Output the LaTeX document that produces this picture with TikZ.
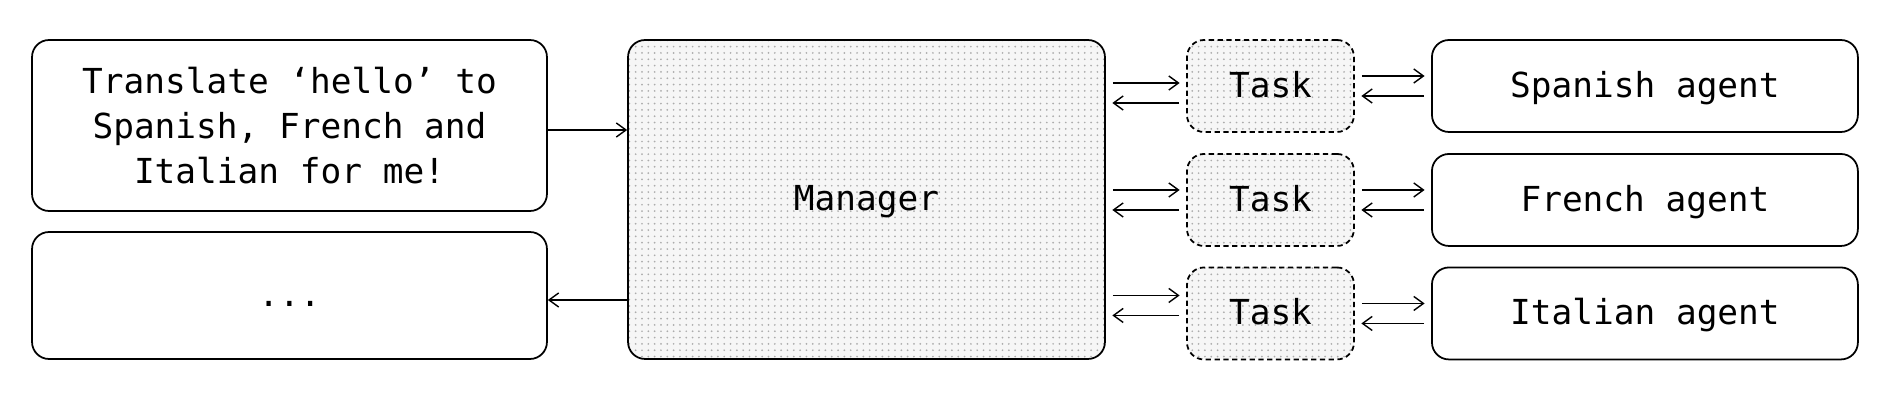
\documentclass[tikz,border=0pt]{standalone}
\usepackage{fontspec}
\setmonofont{DejaVu Sans Mono}
\usetikzlibrary{arrows.meta,patterns.meta}
\pgfdeclarepattern{name=fine dots, type=uncolored,
  bottom left={\pgfpoint{-.1pt}{-.1pt}}, top right={\pgfpoint{3.7pt}{3.7pt}},
  tile size={\pgfpoint{3.6pt}{3.6pt}},
  code={\pgfpathcircle{\pgfpoint{1.8pt}{1.8pt}}{0.55pt}\pgfusepath{fill}}}
\tikzstyle{box} = [rectangle, draw, line width=1pt, rounded corners=0.34cm,
    font=\ttfamily\fontsize{19.6}{25.5}\selectfont]
\tikzstyle{label} = [text height=13pt, text depth=0pt]
\tikzstyle{dotbox} = [box, label, preaction={fill=gray!7}, pattern=fine dots,
    pattern color=gray!65]
\tikzstyle{taskbox} = [dotbox, dash pattern=on 3pt off 2pt,
    minimum width=3.34cm, minimum height=1.84cm]
\tikzstyle{agent} = [box, label, minimum width=8.52cm, minimum height=1.84cm]
\tikzstyle{link} = [line width=0.8pt, -{Straight Barb[length=5.5pt,width=8pt]}]
\tikzstyle{pair} = [link, shorten <=0.14cm, shorten >=0.13cm]

\begin{document}
\begin{tikzpicture}[x=0.02cm,y=-0.02cm]
  \useasboundingbox (0,0) rectangle (1884,404);
  \node[box,align=center,minimum width=10.3cm,minimum height=3.42cm] (in) at (289.5,125.5)
    {Translate ‘hello’ to\\Spanish, French and\\Italian for me!};
  \node[box,label,minimum width=10.3cm,minimum height=2.54cm]
    (out) at (289.5,295.5) {...};
  \node[dotbox,minimum width=9.54cm,minimum height=6.38cm] (m) at (866.5,199.5) {Manager};
  \node[taskbox] (t0) at (1270.5,86) {Task};
  \node[taskbox,node distance=2.28cm] (t1) [below of=t0] {Task};
  \node[taskbox,node distance=2.27cm] (t2) [below of=t1] {Task};
  \node[agent,node distance=7.49cm] (a0) [right of=t0] {Spanish agent};
  \node[agent,node distance=7.49cm] (a1) [right of=t1] {French agent};
  \node[agent,node distance=7.49cm] (a2) [right of=t2] {Italian agent};

  \draw[link] ([yshift=-0.09cm]in.east) -- ([yshift=-0.09cm]in.east -| m.west);
  \draw[link] ([yshift=-0.09cm]out.east -| m.west) -- ([yshift=-0.09cm]out.east);
  \draw[pair] ([yshift=0.06cm]t0.west -| m.east) -- ([yshift=0.06cm]t0.west);
  \draw[pair] ([yshift=-0.34cm]t0.west) -- ([yshift=-0.34cm]t0.west -| m.east);
  \draw[pair] ([yshift=0.2cm]t1.west -| m.east) -- ([yshift=0.2cm]t1.west);
  \draw[pair] ([yshift=-0.2cm]t1.west) -- ([yshift=-0.2cm]t1.west -| m.east);
  \draw[pair] ([yshift=0.36cm]t2.west -| m.east) -- ([yshift=0.36cm]t2.west);
  \draw[pair] ([yshift=-0.04cm]t2.west) -- ([yshift=-0.04cm]t2.west -| m.east);
  \draw[pair] ([yshift=0.2cm]t0.east) -- ([yshift=0.2cm]a0.west);
  \draw[pair] ([yshift=-0.2cm]a0.west) -- ([yshift=-0.2cm]t0.east);
  \draw[pair] ([yshift=0.2cm]t1.east) -- ([yshift=0.2cm]a1.west);
  \draw[pair] ([yshift=-0.2cm]a1.west) -- ([yshift=-0.2cm]t1.east);
  \draw[pair] ([yshift=0.2cm]t2.east) -- ([yshift=0.2cm]a2.west);
  \draw[pair] ([yshift=-0.2cm]a2.west) -- ([yshift=-0.2cm]t2.east);
\end{tikzpicture}
\end{document}
